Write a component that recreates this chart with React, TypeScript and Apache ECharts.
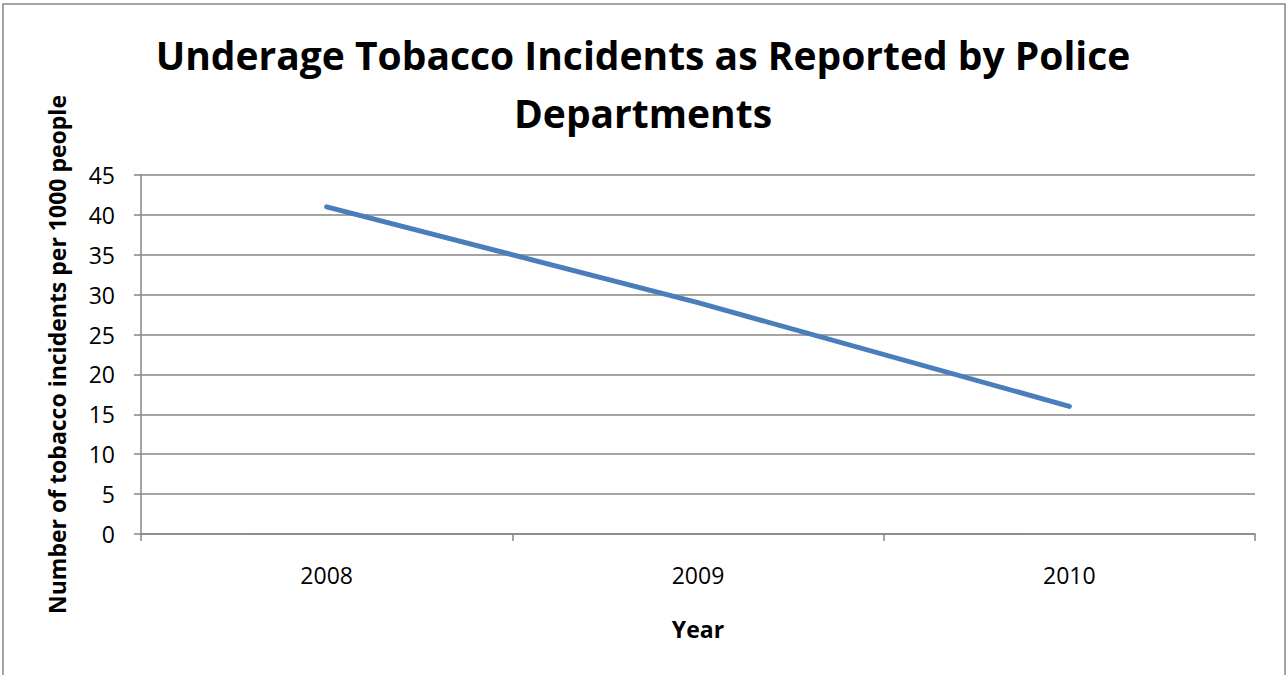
import React, { useEffect, useRef } from "react";
import * as echarts from "echarts";

const years = ["2008", "2009", "2010"];
const incidents = [41, 29, 16];
const yTicks = { min: 0, max: 45, interval: 5 };
const titleText = "Underage Tobacco Incidents as Reported by Police\nDepartments";
const xName = "Year";
const yName = "Number of tobacco incidents per 1000 people";

const FONT = "'Open Sans', 'Noto Sans', sans-serif";
const GREY = "#868686";

export default function App() {
  const ref = useRef<HTMLDivElement>(null);
  useEffect(() => {
    document.body.style.margin = "0";
    const chart = echarts.init(ref.current!, null, { renderer: "svg" });
    chart.setOption({
      animation: false,
      backgroundColor: "#ffffff",
      graphic: [
        {
          type: "rect",
          shape: { x: 3, y: 4, width: 1282, height: 690 },
          style: { fill: "none", stroke: GREY, lineWidth: 1.5 },
          silent: true,
        },
        {
          type: "text",
          x: 643,
          y: 25,
          style: {
            text: titleText,
            fontFamily: FONT,
            fontSize: 39,
            fontWeight: "bold",
            fill: "#000",
            lineHeight: 58,
            align: "center",
            verticalAlign: "top",
          },
          silent: true,
        },
      ],
      grid: { left: 141, right: 31, top: 175, bottom: 141, containLabel: false },
      xAxis: {
        type: "category",
        data: years,
        boundaryGap: true,
        name: xName,
        nameLocation: "middle",
        nameGap: 83,
        nameTextStyle: { fontFamily: FONT, fontSize: 23, fontWeight: "bold", color: "#000", verticalAlign: "top" },
        axisLine: { lineStyle: { color: GREY, width: 1.5 } },
        axisTick: { show: true, length: 7, inside: false, lineStyle: { color: GREY, width: 1.5 } },
        axisLabel: { fontFamily: FONT, fontSize: 23, color: "#000", margin: 29 },
        splitLine: { show: false },
      },
      yAxis: {
        type: "value",
        min: yTicks.min,
        max: yTicks.max,
        interval: yTicks.interval,
        name: yName,
        nameLocation: "middle",
        nameGap: 73,
        nameTextStyle: { fontFamily: FONT, fontSize: 23, fontWeight: "bold", color: "#000" },
        axisLine: { show: true, lineStyle: { color: GREY, width: 1.5 } },
        axisTick: { show: true, length: 7, lineStyle: { color: GREY, width: 1.5 } },
        axisLabel: { fontFamily: FONT, fontSize: 23, color: "#000", margin: 26 },
        splitLine: { show: true, lineStyle: { color: GREY, width: 1.5 } },
      },
      series: [
        {
          type: "line",
          data: incidents,
          showSymbol: false,
          symbol: "none",
          lineStyle: { color: "#4a7ebb", width: 5, cap: "round" },
          itemStyle: { color: "#4a7ebb" },
        },
      ],
    });
    return () => chart.dispose();
  }, []);
  return <div ref={ref} style={{ position: "absolute", left: 0, top: 0, width: 1286, height: 675 }} />;
}
